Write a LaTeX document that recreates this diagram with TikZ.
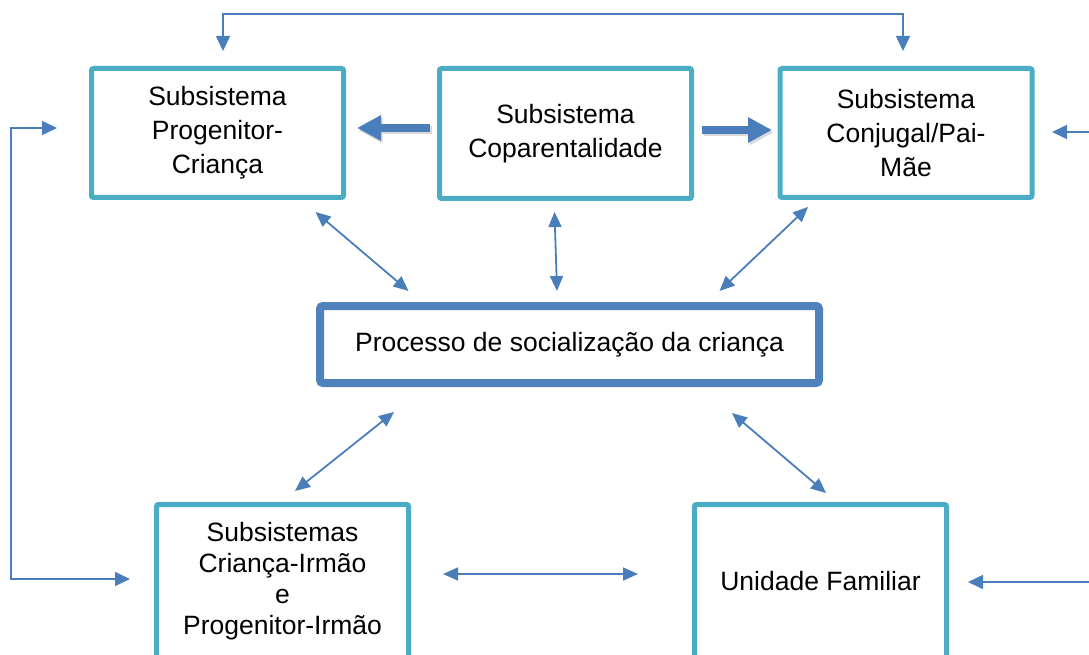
\documentclass[tikz,border=0pt]{standalone}
\usepackage{fontspec}
\setmainfont{Liberation Sans}
\usetikzlibrary{arrows.meta}
\definecolor{boxteal}{RGB}{75,172,198}
\definecolor{boxblue}{RGB}{79,129,189}
\definecolor{arrowblue}{RGB}{74,126,187}
\begin{document}
\begin{tikzpicture}[x=1pt,y=-1pt,
  sysbox/.style={draw=boxteal,line width=5pt,fill=white,rounded corners=2pt,
    minimum width=252pt,align=center,inner sep=0pt,
    font=\fontsize{26.5}{34}\selectfont},
  mainbox/.style={draw=boxblue,line width=8pt,fill=white,rounded corners=3pt,
    minimum width=499pt,minimum height=77pt,inner sep=0pt,
    font=\fontsize{26.5}{34}\selectfont},
  link/.style={arrowblue,line width=1.8pt,
    {Triangle[length=15pt,width=13pt]}-{Triangle[length=15pt,width=13pt]}},
  feed/.style={arrowblue,line width=1.6pt,-{Triangle[length=15pt,width=14pt]}},
  feedboth/.style={arrowblue,line width=1.6pt,
    {Triangle[length=15pt,width=14pt]}-{Triangle[length=15pt,width=14pt]}},
  bigarrow/.style={arrowblue,line width=8pt,-{Triangle[length=24pt,width=24pt]}},
  bigshadow/.style={black!15,line width=8pt,-{Triangle[length=24pt,width=24pt]}},
]
\useasboundingbox (0,0) rectangle (1089,655);
\clip (0,0) rectangle (1089,655);

% boxes
\node[sysbox,minimum height=129pt] (pc) at (217.5,133) {Subsistema\\Progenitor-\\Criança};
\node[sysbox,minimum height=130pt] (cop) at (565.5,133.5) {Subsistema\\Coparentalidade};
\node[sysbox,minimum height=129pt] (cj) at (906,133) {Subsistema\\Conjugal/Pai-\\Mãe};
\node[mainbox] (soc) at (569.5,344.5) {Processo de socialização da criança};
\node[sysbox,minimum height=153pt,font=\fontsize{26.5}{31}\selectfont] (ci) at (282.5,581)
  {Subsistemas\\Criança-Irmão\\e\\Progenitor-Irmão};
\node[sysbox,minimum height=153pt] (uf) at (820.5,581) {Unidade Familiar};

% connector end points
\coordinate (t1) at (223,51);
\coordinate (t2) at (903,51);
\coordinate (l1) at (57,128);
\coordinate (l2) at (130,579);
\coordinate (r1s) at (1100,132);
\coordinate (r1) at (1052,132);
\coordinate (r2s) at (1100,582);
\coordinate (r2) at (968,582);
\coordinate (b1s) at (430,128);
\coordinate (b1) at (357,128);
\coordinate (b2s) at (702,130);
\coordinate (b2) at (772,130);
\coordinate (d1a) at (315.5,212);
\coordinate (d1b) at (408.5,291);
\coordinate (d2a) at (554.5,212);
\coordinate (d2b) at (557,291);
\coordinate (d3a) at (808,207);
\coordinate (d3b) at (719.5,291);
\coordinate (d4a) at (394,412);
\coordinate (d4b) at (295,491);
\coordinate (d5a) at (732,413);
\coordinate (d5b) at (826,493);
\coordinate (h1) at (443,574);
\coordinate (h2) at (638,574);

% top bracket and left loop
\draw[feedboth] (t1) -- (223,14) -- (903,14) -- (t2);
\draw[feedboth] (l1) -- (11,128) -- (11,579) -- (l2);

% inputs from the right
\draw[feed] (r1s) -- (r1);
\draw[feed] (r2s) -- (r2);

% thick arrows from coparentalidade
\draw[bigshadow] ([shift={(1.5,2.5)}]b1s) -- ([shift={(1.5,2.5)}]b1);
\draw[bigshadow] ([shift={(1.5,2.5)}]b2s) -- ([shift={(1.5,2.5)}]b2);
\draw[bigarrow] (b1s) -- (b1);
\draw[bigarrow] (b2s) -- (b2);

% double-headed links
\draw[link] (d1a) -- (d1b);
\draw[link] (d2a) -- (d2b);
\draw[link] (d3a) -- (d3b);
\draw[link] (d4a) -- (d4b);
\draw[link] (d5a) -- (d5b);
\draw[link] (h1) -- (h2);
\end{tikzpicture}
\end{document}
